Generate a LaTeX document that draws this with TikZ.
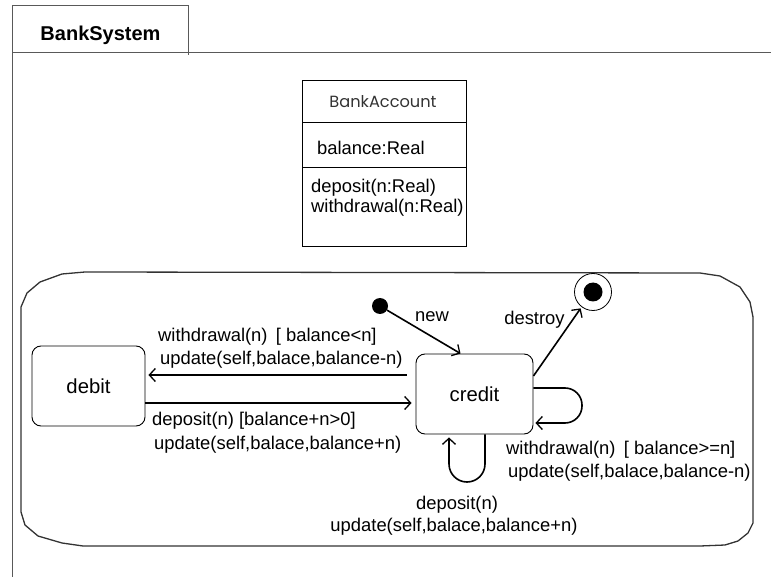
\documentclass[tikz,border=0pt]{standalone}
\usepackage{fontspec}
\setmainfont{Liberation Sans}
\newfontfamily\classfont{Poppins}
\usetikzlibrary{arrows.meta}
\begin{document}
\begin{tikzpicture}[x=1pt,y=-1pt,
  lbl/.style={font=\fontsize{18.4}{21}\selectfont, inner sep=0pt},
  statebox/.style={draw, rounded corners=9pt, line width=0.9pt, font=\fontsize{20.3}{23}\selectfont},
  trans/.style={line width=1.6pt, -{Straight Barb[length=6pt,width=13pt,line width=1.3pt]}},
  loop/.style={trans, rounded corners=17pt},
  frameline/.style={draw=black!65, line width=1pt},
  regionline/.style={draw=black!80, line width=1.3pt}]
\useasboundingbox (0,0) rectangle (771,577);

% package frame with its name tab
\draw[frameline] (12,577) -- (12,6) -- (188,6) -- (188,55);
\draw[frameline] (12,53) -- (771,53);
\node[lbl, font=\fontsize{20}{23}\selectfont\bfseries] (pkg) at (100.5,35) {BankSystem};

% class BankAccount
\draw[line width=0.8pt] (302,80) rectangle (466,246);
\draw[line width=0.8pt] (302,122) -- (466,122);
\draw[line width=0.8pt] (302,167) -- (466,167);
\node[lbl, font=\classfont\fontsize{16.2}{19}\selectfont, text=black!80] (clsname) at (383,102) {BankAccount};
\node[lbl, anchor=west] (attr) at (317,148) {balance:Real};
\node[lbl, anchor=west] (op1) at (311,188) {deposit(n:Real)};
\node[lbl, anchor=west] (op2) at (311,208) {withdrawal(n:Real)};

% enclosing state region
\draw[regionline] (85,272) -- (700,273) -- (720,276) -- (740,287) -- (750,302) -- (753,317)
  -- (753,523) -- (748,533) -- (738,541) -- (725,545) -- (700,546) -- (83,546)
  -- (62,543) -- (38,536) -- (25,525) -- (21,512) -- (21,307) -- (27,293)
  -- (40,282) -- (62,274) -- cycle;

% states
\node[statebox, minimum width=113pt, minimum height=80pt] (debit) at (88.5,386) {debit};
\node[statebox, minimum width=117pt, minimum height=80pt] (credit) at (474.5,394) {credit};
\node[circle, fill, minimum size=16pt, inner sep=0pt] (init) at (380,306) {};
\node[circle, draw, line width=0.8pt, minimum size=37pt, inner sep=0pt] (final) at (593,292) {};
\node[circle, fill, minimum size=19pt, inner sep=0pt] (finaldot) at (final) {};

% transitions
\draw[trans] (init) -- ([xshift=-14pt]credit.north);
\node[lbl] (newlbl) at (432,317) {new};

\draw[trans] ([yshift=18pt]credit.east) -- ([shift={(1pt,-3pt)}]final.225);
\node[lbl] (destroylbl) at (534.5,320) {destroy};

\draw[trans] ([xshift=-9pt,yshift=19pt]credit.west) -- ([xshift=3pt,yshift=11pt]debit.east);
\node[lbl, anchor=west] (wl1) at (158,337) {withdrawal(n)\hspace{0.45em}[ balance<n]};
\node[lbl, anchor=west] (wl2) at (160,360) {update(self,balace,balance-n)};

\draw[trans] ([yshift=-17pt]debit.east) -- ([xshift=-4pt,yshift=-9pt]credit.west);
\node[lbl, anchor=west] (dl1) at (152,421) {deposit(n) [balance+n>0]};
\node[lbl, anchor=west] (dl2) at (154,445) {update(self,balace,balance+n)};

\draw[loop] ([yshift=6pt]credit.east) -- (582,388) -- (582,423) -- ([xshift=2pt,yshift=-29pt]credit.east);
\node[lbl, anchor=west] (wr1) at (506,450) {withdrawal(n)\hspace{0.45em}[ balance>=n]};
\node[lbl, anchor=west] (wr2) at (508,473) {update(self,balace,balance-n)};

\draw[loop, rounded corners=18pt] ([xshift=10.5pt]credit.south) -- (485,482) -- (449,482) -- ([xshift=-25.5pt,yshift=-3pt]credit.south);
\node[lbl] (db1) at (457,505) {deposit(n)};
\node[lbl] (db2) at (454,527) {update(self,balace,balance+n)};
\end{tikzpicture}
\end{document}
